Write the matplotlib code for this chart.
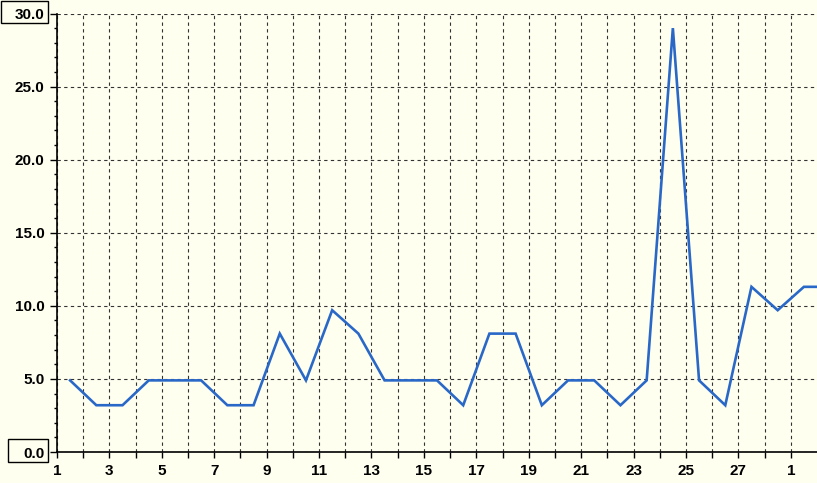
import matplotlib
matplotlib.use("Agg")
import matplotlib.pyplot as plt
from matplotlib.patches import Rectangle

# daily values, drawn at the middle of each day
days = [1.5, 2.5, 3.5, 4.5, 5.5, 6.5, 7.5, 8.5, 9.5, 10.5,
        11.5, 12.5, 13.5, 14.5, 15.5, 16.5, 17.5, 18.5, 19.5, 20.5,
        21.5, 22.5, 23.5, 24.5, 25.5, 26.5, 27.5, 28.5, 29.5, 30.5]
values = [4.9, 3.2, 3.2, 4.9, 4.9, 4.9, 3.2, 3.2, 8.1, 4.9,
          9.7, 8.1, 4.9, 4.9, 4.9, 3.2, 8.1, 8.1, 3.2, 4.9,
          4.9, 3.2, 4.9, 29.0, 4.9, 3.2, 11.3, 9.7, 11.3, 11.3]
tick_days = list(range(1, 30))
tick_labels = ["1", "", "3", "", "5", "", "7", "", "9", "", "11", "", "13", "",
               "15", "", "17", "", "19", "", "21", "", "23", "", "25", "", "27",
               "", "1"]
y_major = [0, 5, 10, 15, 20, 25, 30]
y_minor = list(range(0, 31))

bg = "#FFFFF0"
plt.rcParams["font.family"] = ["Liberation Sans", "DejaVu Sans"]
plt.rcParams["font.weight"] = "bold"
plt.rcParams["font.size"] = 11

fig = plt.figure(figsize=(8.17, 4.83), dpi=100, facecolor=bg)
W, H = 817, 483
x0, x1, ytop, ybot = 57, 817, 13.5, 452
ax = fig.add_axes([x0 / W, (H - ybot) / H, (x1 - x0) / W, (ybot - ytop) / H])
ax.set_facecolor(bg)

ax.plot(days, values, color="#2A68C8", lw=1.9, solid_joinstyle="miter", clip_on=True)

ax.set_xlim(1, 30)
ax.set_ylim(0, 30)
ax.set_xticks(tick_days)
ax.set_xticklabels(tick_labels)
ax.set_yticks(y_minor, minor=True)
ax.set_yticks(y_major)
ax.set_yticklabels([f"{v:.1f}" for v in y_major])

ax.grid(True, which="major", color="#333333", lw=0.8, linestyle=(0, (3, 3)))
ax.set_axisbelow(True)

for s in ["top", "right"]:
    ax.spines[s].set_visible(False)
ax.spines["left"].set_linewidth(1.2)
ax.spines["bottom"].set_linewidth(1.2)

ax.tick_params(axis="x", direction="out", length=4.5, width=1, pad=4)
ax.tick_params(axis="y", which="major", direction="out", length=5, width=1, pad=4)
ax.tick_params(axis="y", which="minor", direction="out", length=2, width=1)

# boxes round the max / min labels
fig.patches.append(Rectangle((1 / W, (H - 23) / H), 47 / W, 22 / H,
                             transform=fig.transFigure, fill=False, ec="black", lw=1))
fig.patches.append(Rectangle((8 / W, (H - 462) / H), 40 / W, 23 / H,
                             transform=fig.transFigure, fill=False, ec="black", lw=1))

fig.savefig("out.png", dpi=100, facecolor=bg)
